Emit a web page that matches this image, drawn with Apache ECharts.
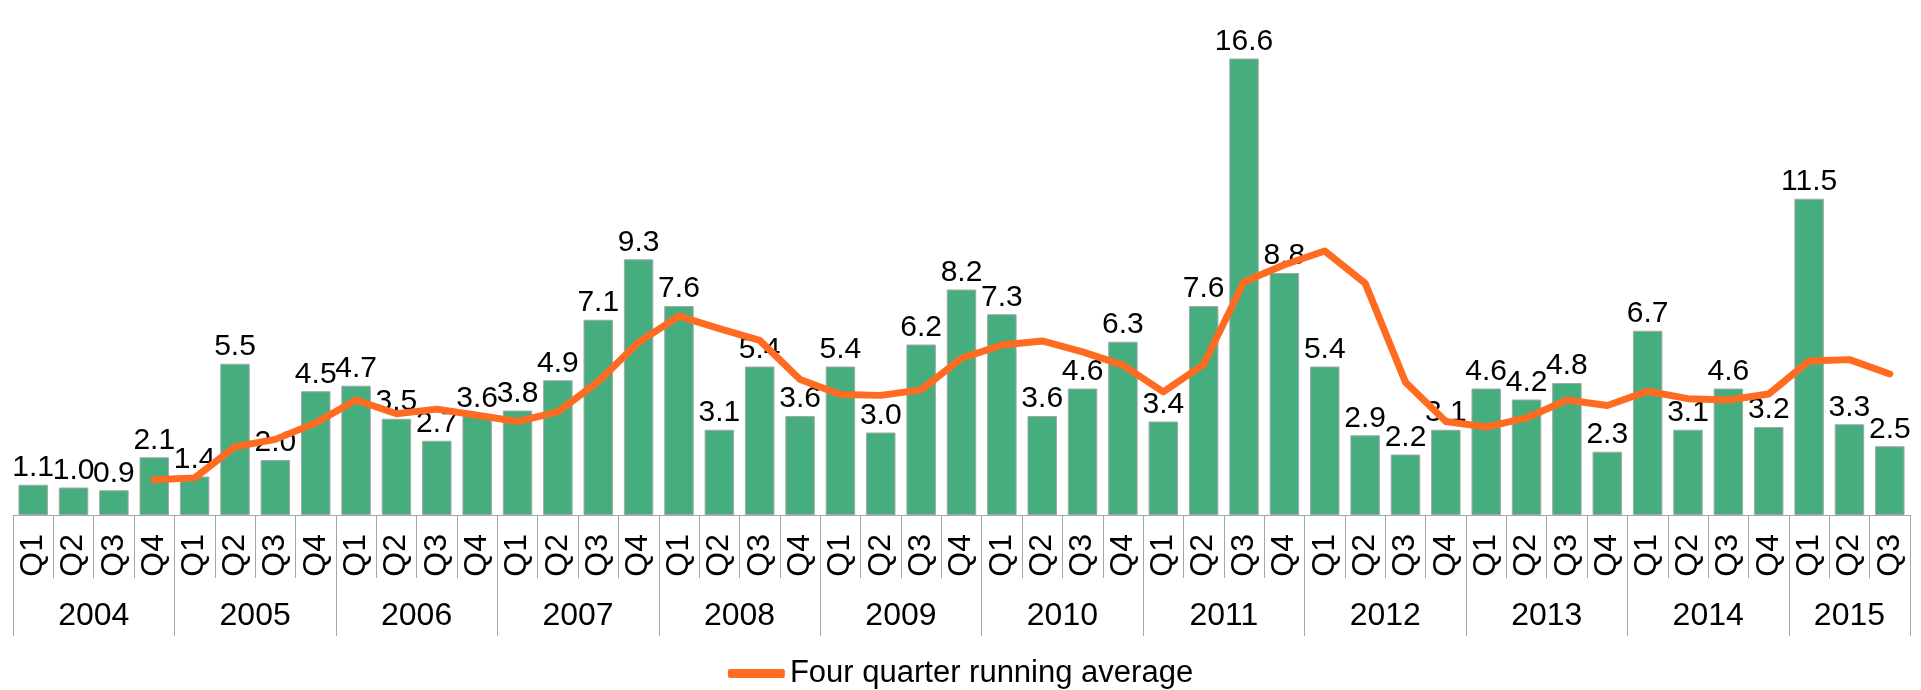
<!DOCTYPE html>
<html>
<head>
<meta charset="utf-8">
<title>Quarterly values with four quarter running average</title>
<script src="https://cdn.jsdelivr.net/npm/echarts@6/dist/echarts.min.js"></script>
<style>
  html, body { margin: 0; padding: 0; background: #fff; }
  #chart { width: 1921px; height: 690px; }
</style>
</head>
<body>
<div id="chart"></div>
<script>
  // 2004 Q1 .. 2015 Q3
  const quarters = [
    'Q1', 'Q2', 'Q3', 'Q4', 'Q1', 'Q2', 'Q3', 'Q4', 'Q1', 'Q2', 'Q3', 'Q4',
    'Q1', 'Q2', 'Q3', 'Q4', 'Q1', 'Q2', 'Q3', 'Q4', 'Q1', 'Q2', 'Q3', 'Q4',
    'Q1', 'Q2', 'Q3', 'Q4', 'Q1', 'Q2', 'Q3', 'Q4', 'Q1', 'Q2', 'Q3', 'Q4',
    'Q1', 'Q2', 'Q3', 'Q4', 'Q1', 'Q2', 'Q3', 'Q4', 'Q1', 'Q2', 'Q3'
  ]
  const years = ['2004', '2005', '2006', '2007', '2008', '2009', '2010', '2011', '2012', '2013', '2014', '2015']
  const quartersPerYear = [4, 4, 4, 4, 4, 4, 4, 4, 4, 4, 4, 3]

  const values = [
    1.1, 1.0, 0.9, 2.1,
    1.4, 5.5, 2.0, 4.5,
    4.7, 3.5, 2.7, 3.6,
    3.8, 4.9, 7.1, 9.3,
    7.6, 3.1, 5.4, 3.6,
    5.4, 3.0, 6.2, 8.2,
    7.3, 3.6, 4.6, 6.3,
    3.4, 7.6, 16.6, 8.8,
    5.4, 2.9, 2.2, 3.1,
    4.6, 4.2, 4.8, 2.3,
    6.7, 3.1, 4.6, 3.2,
    11.5, 3.3, 2.5
  ]

  const runningAvg = [
    '-', '-', '-', 1.28,
    1.35, 2.48, 2.75, 3.35,
    4.18, 3.68, 3.85, 3.63,
    3.40, 3.75, 4.85, 6.28,
    7.23, 6.78, 6.35, 4.93,
    4.38, 4.35, 4.55, 5.70,
    6.18, 6.33, 5.93, 5.45,
    4.48, 5.48, 8.48, 9.10,
    9.60, 8.43, 4.83, 3.40,
    3.20, 3.53, 4.18, 3.98,
    4.50, 4.23, 4.18, 4.40,
    5.60, 5.65, 5.13
  ]

  // year boundaries and label centres, in quarter units
  const yearStarts = []
  const yearCentres = {}
  let pos = 0
  years.forEach((y, i) => {
    yearStarts.push(pos)
    yearCentres[pos + quartersPerYear[i] / 2] = y
    pos += quartersPerYear[i]
  })

  const font = 'Liberation Sans, Arial, sans-serif'
  const gridLine = '#A6A6A6'

  const chart = echarts.init(document.getElementById('chart'))
  const option = {
    animation: false,
    textStyle: { fontFamily: font },
    grid: {
      left: 13,
      right: 11,
      top: 20,
      bottom: 175,
      containLabel: false
    },
    legend: {
      data: ['Four quarter running average'],
      left: 'center',
      top: 653,
      icon: 'roundRect',
      itemWidth: 57,
      itemHeight: 9,
      itemGap: 4,
      textStyle: { fontSize: 31, color: '#000', fontFamily: font }
    },
    xAxis: [
      {
        type: 'category',
        position: 'bottom',
        data: quarters,
        axisLine: { show: true, lineStyle: { color: gridLine, width: 1 } },
        axisTick: { show: true, interval: 0, length: 63, lineStyle: { color: gridLine } },
        axisLabel: {
          interval: 0,
          rotate: 90,
          margin: 19,
          fontSize: 32,
          color: '#000',
          fontFamily: font
        }
      },
      {
        type: 'category',
        position: 'bottom',
        data: quarters,
        axisLine: { show: false },
        axisTick: {
          show: true,
          length: 121,
          interval: (index) => yearStarts.indexOf(index) !== -1,
          lineStyle: { color: gridLine }
        },
        axisLabel: { show: false }
      },
      {
        type: 'value',
        position: 'bottom',
        min: 0,
        max: quarters.length,
        interval: 0.5,
        axisLine: { show: false },
        axisTick: { show: false },
        splitLine: { show: false },
        axisLabel: {
          margin: 85,
          fontSize: 32,
          color: '#000',
          fontFamily: font,
          showMinLabel: true,
          showMaxLabel: true,
          formatter: (v) => yearCentres[v] || ''
        }
      }
    ],
    yAxis: {
      type: 'value',
      min: 0,
      max: 18,
      show: false,
      splitLine: { show: false }
    },
    series: [
      {
        name: 'Quarterly value',
        type: 'bar',
        data: values,
        barCategoryGap: '27%',
        itemStyle: {
          color: '#46AE7E',
          borderColor: '#A6A6A6',
          borderWidth: 1
        },
        label: {
          show: true,
          position: 'top',
          distance: 2,
          fontSize: 30,
          color: '#000',
          fontFamily: font,
          formatter: (p) => p.value.toFixed(1)
        }
      },
      {
        name: 'Four quarter running average',
        type: 'line',
        data: runningAvg,
        showSymbol: false,
        symbol: 'none',
        itemStyle: { color: '#FF6B21' },
        lineStyle: { color: '#FF6B21', width: 7, cap: 'round', join: 'round' }
      }
    ]
  }
  chart.setOption(option)
</script>
</body>
</html>
